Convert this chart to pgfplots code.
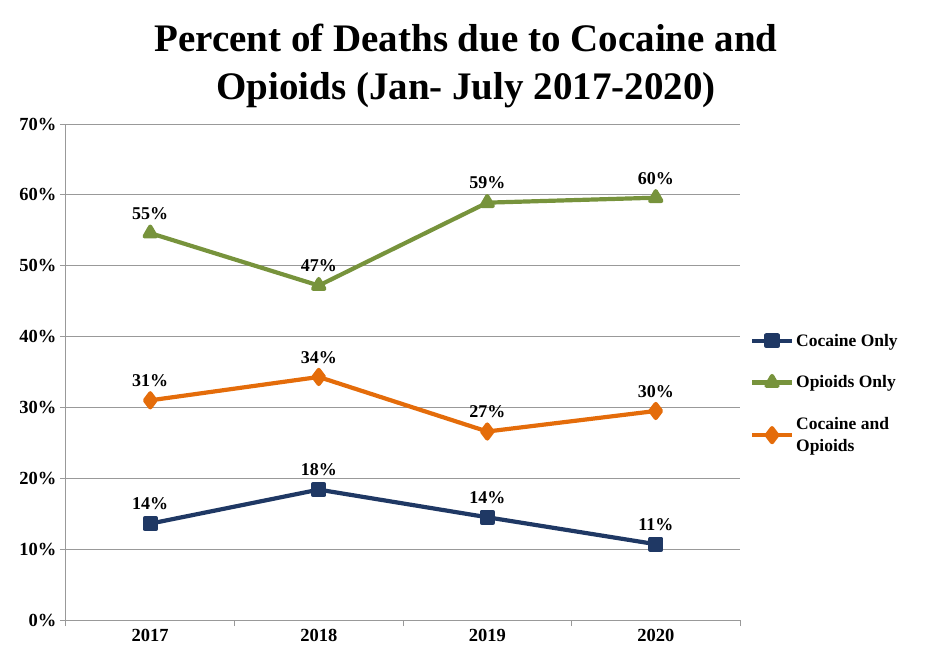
\documentclass[border=0pt]{standalone}
\usepackage{pgfplots}
\pgfplotsset{compat=1.18}
\usepackage{fontspec}
\setmainfont{Liberation Serif}
\definecolor{cnavy}{HTML}{1F3864}
\definecolor{cgreen}{HTML}{77933C}
\definecolor{corange}{HTML}{E46C0A}
\definecolor{cgrid}{HTML}{999999}
\begin{document}
\begin{tikzpicture}
\begin{axis}[
  name=ax,
  scale only axis, width=674pt, height=496pt,
  xmin=-0.5, xmax=3.5, ymin=0, ymax=70,
  axis lines*=left,
  axis line style={draw=cgrid, line width=1pt, -},
  xtick={0,1,2,3}, xticklabels={2017,2018,2019,2020},
  major x tick style={draw=none},
  minor xtick={-0.5,0.5,1.5,2.5,3.5},
  minor x tick style={draw=cgrid, line width=1pt},
  minor tick length=6pt,
  ytick={0,10,20,30,40,50,60,70},
  yticklabels={0\%,10\%,20\%,30\%,40\%,50\%,60\%,70\%},
  major y tick style={draw=cgrid, line width=1pt},
  major tick length=6pt,
  tick align=outside,
  ymajorgrids, grid style={draw=cgrid, line width=1pt},
  ticklabel style={font=\bfseries\fontsize{18.5}{21}\selectfont},
  clip=false,
  point meta=explicit symbolic,
  nodes near coords,
  nodes near coords style={font=\bfseries\fontsize{18}{21}\selectfont, text=black, anchor=south, yshift=8pt},
  legend cell align=left,
  legend style={at={(1.010,0.585)}, anchor=north west, draw=none, fill=none,
    font=\bfseries\fontsize{17.5}{22}\selectfont, row sep=24pt, cells={align=left}},
  legend image code/.code={\draw[mark repeat=2,mark phase=2,#1] plot coordinates {(0pt,0pt) (20pt,0pt) (40pt,0pt)};},
]
\addplot[cnavy, line width=4.2pt, line join=round, mark=square*, mark size=5.5pt, mark options={solid}]
  coordinates {(0,13.6) [14\%] (1,18.4) [18\%] (2,14.5) [14\%] (3,10.7) [11\%]};
\addlegendentry{Cocaine Only}
\addplot[cgreen, line width=4.2pt, line join=round, mark=triangle*, mark size=6.5pt, mark options={solid}]
  coordinates {(0,54.6) [55\%] (1,47.2) [47\%] (2,58.9) [59\%] (3,59.6) [60\%]};
\addlegendentry{Opioids Only}
\addplot[corange, line width=4.2pt, line join=round, mark=diamond*, mark size=7pt, mark options={solid}]
  coordinates {(0,31.0) [31\%] (1,34.3) [34\%] (2,26.6) [27\%] (3,29.5) [30\%]};
\addlegendentry{Cocaine and\\Opioids}
\end{axis}
\path (ax.south west) ++(400pt,554pt) node[font=\bfseries\fontsize{39}{48}\selectfont, align=center] {Percent of Deaths due to Cocaine and\\Opioids (Jan- July 2017-2020)};
\pgfresetboundingbox
\path[use as bounding box] (ax.south west) ++(-66pt,-34pt) rectangle ++(932pt,654pt);
\end{tikzpicture}
\end{document}
